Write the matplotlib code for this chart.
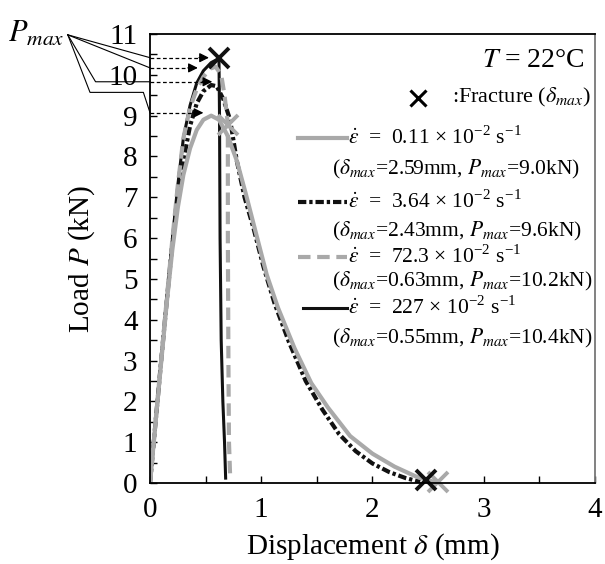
import numpy as np
import matplotlib
matplotlib.use('Agg')
import matplotlib.pyplot as plt

plt.rcParams['font.family'] = ['Liberation Serif', 'DejaVu Serif']
plt.rcParams['mathtext.fontset'] = 'stix'
plt.rcParams['font.size'] = 16

# curve data (displacement mm, load kN)
x_011 = [0, 0.05, 0.10, 0.15, 0.20, 0.25, 0.30, 0.36, 0.42, 0.48, 0.55, 0.62, 0.70, 0.78, 0.86,
         0.95, 1.05, 1.15, 1.30, 1.45, 1.60, 1.80, 2.00, 2.20, 2.40, 2.59]
y_011 = [0, 1.5, 2.95, 4.4, 5.7, 6.75, 7.55, 8.2, 8.65, 8.9, 9.0, 8.9, 8.5, 7.9, 7.1,
         6.15, 5.1, 4.3, 3.3, 2.45, 1.85, 1.15, 0.72, 0.4, 0.15, 0.0]

x_364 = [0, 0.05, 0.10, 0.15, 0.20, 0.25, 0.30, 0.36, 0.42, 0.48, 0.55, 0.60, 0.66, 0.72, 0.78,
         0.85, 0.93, 1.02, 1.12, 1.25, 1.40, 1.55, 1.70, 1.85, 2.00, 2.15, 2.30, 2.43]
y_364 = [0, 1.5, 3.0, 4.45, 5.85, 7.0, 7.9, 8.75, 9.3, 9.6, 9.75, 9.72, 9.4, 8.9, 7.9,
         7.0, 6.25, 5.3, 4.4, 3.45, 2.5, 1.8, 1.2, 0.78, 0.48, 0.27, 0.12, 0.03]

x_723 = [0, 0.05, 0.10, 0.15, 0.20, 0.25, 0.30, 0.36, 0.42, 0.48, 0.54, 0.59, 0.64, 0.67, 0.70,
         0.70, 0.705, 0.71, 0.72]
y_723 = [0, 1.5, 3.0, 4.5, 5.95, 7.3, 8.45, 9.2, 9.65, 9.95, 10.15, 10.2, 10.0, 9.5, 8.8,
         6.0, 3.0, 1.0, 0.2]

x_227 = [0, 0.05, 0.10, 0.15, 0.20, 0.25, 0.30, 0.36, 0.42, 0.48, 0.55, 0.62, 0.625, 0.63,
         0.64, 0.655, 0.67, 0.68]
y_227 = [0, 1.5, 3.0, 4.5, 5.95, 7.3, 8.45, 9.25, 9.8, 10.1, 10.3, 10.4, 9.0, 6.0,
         3.5, 2.0, 1.0, 0.12]

# fracture points
frac_black_x = [0.62, 2.48]
frac_black_y = [10.42, 0.07]
frac_gray_x = [0.70, 2.59]
frac_gray_y = [8.77, 0.02]

# P_max arrows: load level and arrow tip x
pmax_levels = [10.42, 10.17, 9.83, 9.07]
pmax_tips = [0.53, 0.43, 0.56, 0.48]

rate_labels = [r'$\dot{\varepsilon}$  =  0.11 × 10$^{\mathregular{-2}}$ s$^{\mathregular{-1}}$',
               r'$\dot{\varepsilon}$  =  3.64 × 10$^{\mathregular{-2}}$ s$^{\mathregular{-1}}$',
               r'$\dot{\varepsilon}$  =  72.3 × 10$^{\mathregular{-2}}$ s$^{\mathregular{-1}}$',
               r'$\dot{\varepsilon}$  =  227 × 10$^{\mathregular{-2}}$ s$^{\mathregular{-1}}$']
sub_labels = [r'($\delta_{max}$=2.59mm, $P_{max}$=9.0kN)',
              r'($\delta_{max}$=2.43mm, $P_{max}$=9.6kN)',
              r'($\delta_{max}$=0.63mm, $P_{max}$=10.2kN)',
              r'($\delta_{max}$=0.55mm, $P_{max}$=10.4kN)']

gray = '#a9a9a9'
styles = [dict(color=gray, lw=3.0, ls='-'),
          dict(color='#111111', lw=3.0, ls=(0, (2.0, 0.7, 0.8, 0.7))),
          dict(color=gray, lw=3.0, ls=(0, (3.0, 1.6))),
          dict(color='#111111', lw=2.2, ls='-')]

fig = plt.figure(figsize=(6.05, 5.64), dpi=100)
ax = fig.add_axes([0.248, 0.1436, 0.735, 0.7961])

ax.plot(x_227, y_227, **styles[3])
ax.plot(x_364, y_364, **styles[1])
ax.plot(x_723, y_723, **styles[2])
ax.plot(x_011, y_011, **styles[0])

ax.plot(frac_gray_x, frac_gray_y, 'x', color=gray, ms=14, mew=2.8, clip_on=False)
ax.plot(frac_black_x, frac_black_y, 'x', color='#111111', ms=14, mew=2.8, clip_on=False)

ax.set_xlim(0, 4)
ax.set_ylim(0, 11)
ax.set_xticks(np.arange(0, 5, 1))
ax.set_yticks(np.arange(0, 12, 1))
ax.set_xticks(np.arange(0, 4.01, 0.5), minor=True)
ax.set_yticks(np.arange(0, 11.01, 0.5), minor=True)
ax.tick_params(which='both', direction='in', length=5, width=1, top=False, right=False)
ax.tick_params(axis='both', labelsize=21)
ax.tick_params(axis='y', pad=9)
ax.tick_params(axis='x', pad=10)
for s in ax.spines.values():
    s.set_linewidth(1.3)
ax.spines['right'].set_color('#777777')

ax.set_xlabel(r'Displacement $\delta$ (mm)', fontsize=21, labelpad=6)
ax.set_ylabel(r'Load $P$ (kN)', fontsize=21, labelpad=8)

# P_max arrows
for lev, tip in zip(pmax_levels, pmax_tips):
    ax.plot([0, tip - 0.08], [lev, lev], color='black', lw=0.9, ls=(0, (3, 2)))
    ax.annotate('', xy=(tip, lev), xytext=(tip - 0.09, lev),
                arrowprops=dict(arrowstyle='-|>', color='black', lw=0.9,
                                mutation_scale=14, shrinkA=0, shrinkB=0))

ax.text(-1.28, 11.0, r'$P_{max}$', fontsize=22, ha='left', va='center')
kx, ky = -0.74, 10.98
ax.plot([kx, 0], [ky, pmax_levels[0]], color='black', lw=0.8, clip_on=False)
ax.plot([kx, 0], [ky, pmax_levels[1]], color='black', lw=0.8, clip_on=False)
ax.plot([kx, -0.49, 0], [ky, pmax_levels[2], pmax_levels[2]], color='black', lw=0.8, clip_on=False)
ax.plot([kx, -0.54, -0.06, 0], [ky, pmax_levels[3] + 0.5, pmax_levels[3] + 0.5, pmax_levels[3]],
        color='black', lw=0.8, clip_on=False)

# annotations on the right
ax.text(3.91, 10.36, r'$T$ = 22°C', fontsize=20, ha='right', va='center')
ax.plot([2.41], [9.44], 'x', color='black', ms=11, mew=2.2)
ax.text(3.97, 9.44, r':Fracture ($\delta_{max}$)', fontsize=16, ha='right', va='center')

row_y = [8.46, 6.89, 5.54, 4.29]
sub_y = [7.68, 6.15, 4.93, 3.55]
line_x0 = [1.33, 1.33, 1.33, 1.38]
for i in range(4):
    ax.plot([line_x0[i], 1.77], [row_y[i], row_y[i]], **styles[i])
    ax.text(1.78, row_y[i], rate_labels[i], fontsize=15.5, ha='left', va='center')
    ax.text(1.64, sub_y[i], sub_labels[i], fontsize=15.5, ha='left', va='center')

fig.savefig('out.png', dpi=100)
